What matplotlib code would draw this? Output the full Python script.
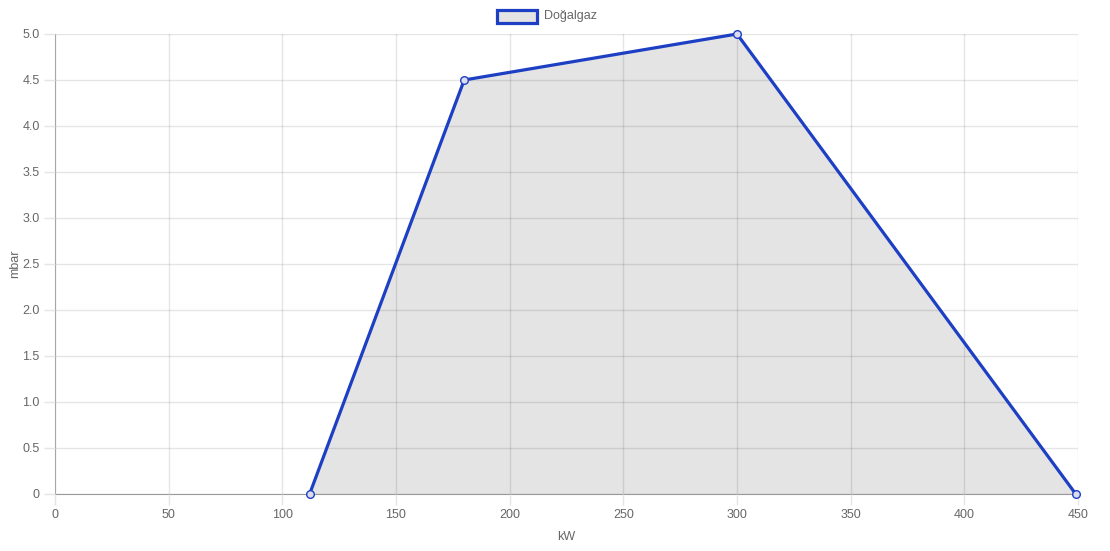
import numpy as np
import matplotlib.pyplot as plt

kw = [112, 180, 300, 449]
mbar = [0, 4.5, 5.0, 0]

x_ticks = [0, 50, 100, 150, 200, 250, 300, 350, 400, 450]
y_ticks = [0, 0.5, 1.0, 1.5, 2.0, 2.5, 3.0, 3.5, 4.0, 4.5, 5.0]
y_labels = ["0", "0.5", "1.0", "1.5", "2.0", "2.5", "3.0", "3.5", "4.0", "4.5", "5.0"]

plt.rcParams["font.family"] = ["Liberation Sans", "DejaVu Sans"]

fig = plt.figure(figsize=(11.1, 5.51), dpi=100)
ax = fig.add_axes([55 / 1110, 1 - 494 / 551, 1023 / 1110, 460 / 551])

line_color = "#1d3fc4"
ax.fill_between(kw, mbar, 0, color="#e4e4e4", zorder=1, linewidth=0)
ax.plot(kw, mbar, color=line_color, linewidth=2.3, zorder=3, clip_on=False,
        marker="o", markersize=5.5, markerfacecolor="#dcdcec",
        markeredgecolor=line_color, markeredgewidth=1)

ax.set_xlim(0, 450)
ax.set_ylim(0, 5.0)
ax.set_xticks(x_ticks)
ax.set_yticks(y_ticks)
ax.set_yticklabels(y_labels)
ax.grid(True, color="#000000", alpha=0.1, linewidth=1, zorder=2)
ax.set_axisbelow(False)

for s in ["top", "right"]:
    ax.spines[s].set_visible(False)
ax.spines["left"].set_color("#bbbbbb")
ax.spines["bottom"].set_color("#999999")
ax.tick_params(axis="both", colors="#666666", labelsize=9, length=8, width=1,
               color="#e5e5e5", pad=3)
for lab in ax.get_xticklabels() + ax.get_yticklabels():
    lab.set_color("#666666")

ax.set_xlabel("kW", color="#666666", fontsize=9, labelpad=7)
ax.set_ylabel("mbar", color="#666666", fontsize=9, labelpad=1)

# legend box
fig.patches.append(plt.Rectangle((497 / 1110, 1 - 23 / 551), 40 / 1110, 13 / 551,
                                 transform=fig.transFigure, facecolor="#e4e4e4",
                                 edgecolor=line_color, linewidth=2.3))
fig.text(544 / 1110, 1 - 16.5 / 551, "Doğalgaz", color="#666666", fontsize=9,
         va="center", ha="left")

fig.savefig("out.png", dpi=100)
